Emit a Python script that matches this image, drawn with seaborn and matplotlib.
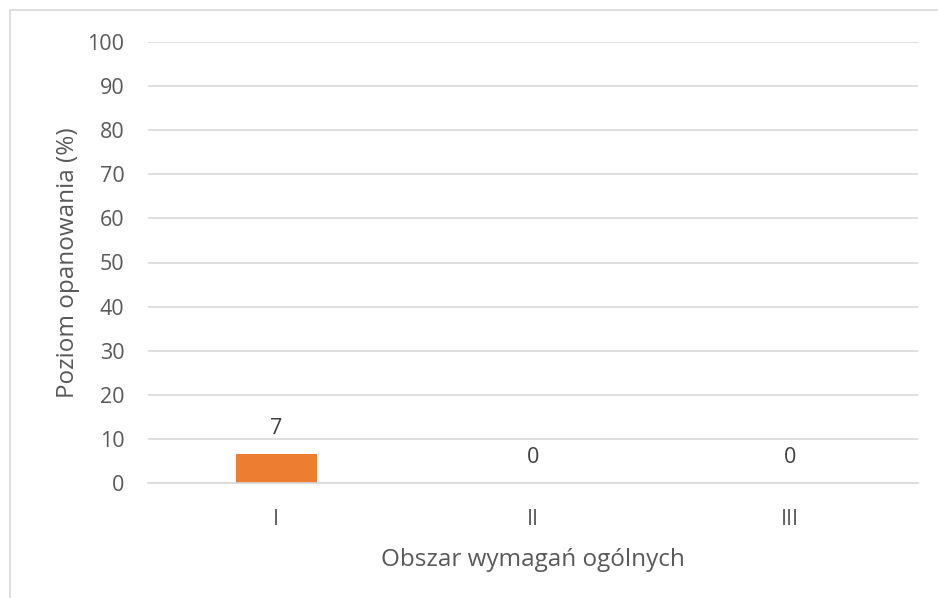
import matplotlib
matplotlib.use("Agg")
import matplotlib.pyplot as plt
import seaborn as sns
import pandas as pd
from matplotlib.patches import Rectangle

categories = ["I", "II", "III"]
values = [6.6, 0.0, 0.0]
labels = ["7", "0", "0"]
yticks = [0, 10, 20, 30, 40, 50, 60, 70, 80, 90, 100]

sns.set_theme(style="white")
plt.rcParams['font.family'] = ['Open Sans', 'DejaVu Sans']

df = pd.DataFrame({"cat": categories, "val": values})

fig = plt.figure(figsize=(9.38, 5.98), dpi=100)
ax = fig.add_axes([148/938, 1 - 483/598, 770/938, (483 - 42)/598])

sns.barplot(data=df, x="cat", y="val", color="#ED7D31", width=0.315, ax=ax,
            saturation=1, edgecolor="none")

ax.set_ylim(0, 100)
ax.set_xlim(-0.5, 2.5)
ax.set_yticks(yticks)
ax.set_yticklabels([str(t) for t in yticks])
ax.yaxis.grid(True, color="#D9D9D9", linewidth=1.2)
ax.set_axisbelow(True)
for s in ["top", "right", "left"]:
    ax.spines[s].set_visible(False)
ax.spines["bottom"].set_color("#D9D9D9")
ax.spines["bottom"].set_linewidth(1.2)
ax.tick_params(axis="both", length=0, labelsize=15.5, colors="#595959")
ax.tick_params(axis="y", pad=17)
ax.tick_params(axis="x", pad=19)

for i, (v, lab) in enumerate(zip(values, labels)):
    ax.annotate(lab, (i, v), xytext=(0, 11), textcoords="offset points",
                ha="center", va="bottom", fontsize=15.5, color="#404040")

ax.set_xlabel("Obszar wymagań ogólnych", fontsize=17.5, color="#595959", labelpad=13)
ax.set_ylabel("Poziom opanowania (%)", fontsize=17.5, color="#595959", labelpad=5)

fig.patches.append(Rectangle((10/938, -0.1), 1.2, 1 - 10/598 + 0.1, transform=fig.transFigure,
                             fill=False, edgecolor="#D9D9D9", linewidth=1.2))

fig.savefig("out.png", dpi=100)
